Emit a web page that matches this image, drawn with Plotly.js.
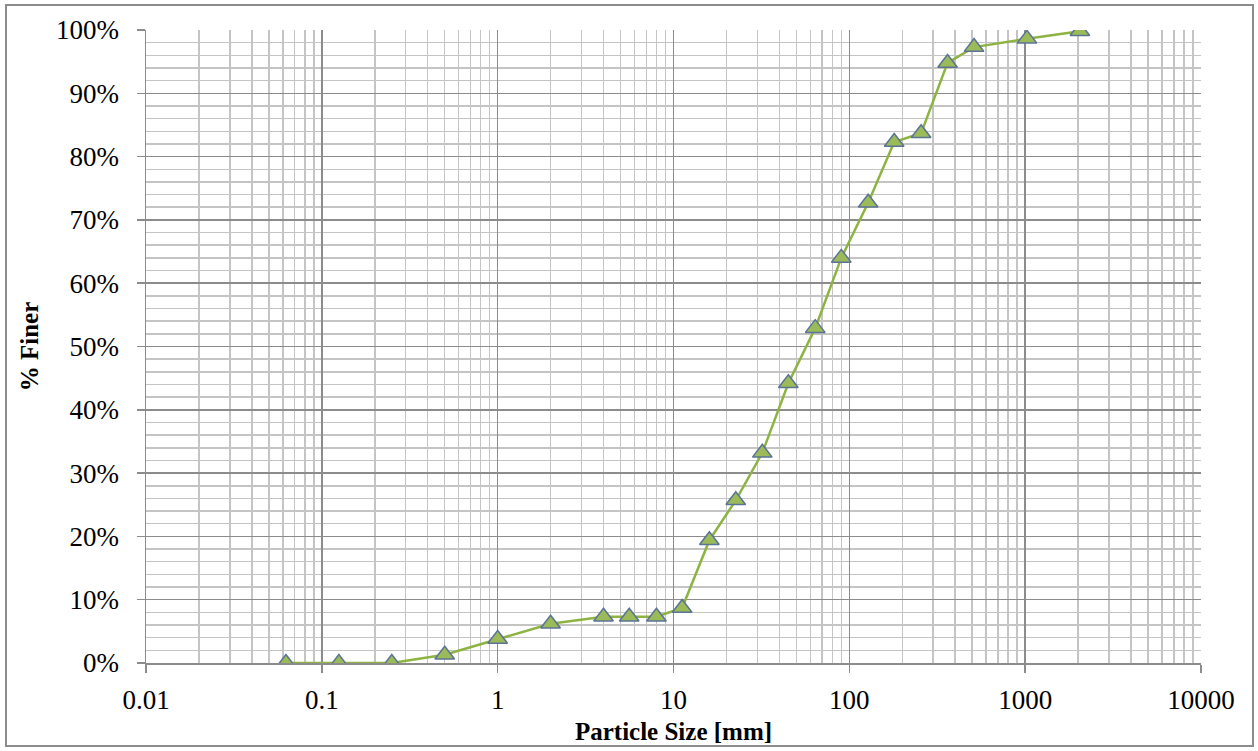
<!DOCTYPE html>
<html>
<head>
<meta charset="utf-8">
<script src="https://cdn.plot.ly/plotly-3.0.1.min.js"></script>
<style>
  html, body { margin: 0; padding: 0; background: #fff; }
  #chart { width: 1258px; height: 751px; position: relative; }
  #frame { position: absolute; left: 5px; top: 4px; width: 1249px; height: 743px; border: 2px solid #8c8c8c; pointer-events: none; box-sizing: border-box; }
</style>
</head>
<body>
<div id="chart"></div>
<div id="frame"></div>
<script>
// Particle size (mm) and cumulative percent finer (fraction)
const particleSize = [0.0625, 0.125, 0.25, 0.5, 1, 2, 4, 5.6, 8, 11.2, 16, 22.6, 32, 45, 64, 90, 128, 180, 256, 362, 512, 1024, 2048];
const percentFiner = [0.0, 0.0, 0.0, 0.013, 0.038, 0.062, 0.073, 0.073, 0.073, 0.087, 0.194, 0.257, 0.332, 0.442, 0.529, 0.640, 0.727, 0.823, 0.837, 0.948, 0.973, 0.986, 0.998];

const xTickVals = [0.01, 0.1, 1, 10, 100, 1000, 10000];
const xTickText = ["0.01", "0.1", "1", "10", "100", "1000", "10000"];

const font = "'Liberation Serif', 'DejaVu Serif', serif";

const trace = {
  x: particleSize,
  y: percentFiner,
  type: 'scatter',
  mode: 'lines+markers',
  line: { color: '#8DB443', width: 2.5 },
  marker: { symbol: 'triangle-up', size: 17, color: '#9BBB59', line: { color: '#5B7396', width: 1.5 } },
  showlegend: false,
  hoverinfo: 'x+y'
};

const layout = {
  width: 1258,
  height: 751,
  margin: { l: 146, r: 57, t: 30, b: 88 },
  paper_bgcolor: '#ffffff',
  plot_bgcolor: '#ffffff',
  font: { family: font, size: 27, color: '#000' },
  xaxis: {
    type: 'log',
    range: [-2, 4],
    tickvals: xTickVals,
    ticktext: xTickText,
    showgrid: true,
    gridcolor: '#8c8c8c',
    gridwidth: 1.5,
    showline: true,
    linecolor: '#8c8c8c',
    linewidth: 1.5,
    ticks: 'outside',
    ticklen: 8,
    tickcolor: '#8c8c8c',
    tickwidth: 1.5,
    ticklabelstandoff: 4,
    tickfont: { family: font, size: 27, color: '#000' },
    zeroline: false,
    automargin: false,
    minor: { dtick: 'D1', showgrid: true, gridcolor: '#c4c4c4', gridwidth: 1.5, ticks: '' },
    title: { text: '<b>Particle Size [mm]</b>', font: { family: font, size: 25, color: '#000' }, standoff: 8 }
  },
  yaxis: {
    range: [0, 1],
    dtick: 0.1,
    tick0: 0,
    tickformat: '.0%',
    showgrid: true,
    gridcolor: '#8c8c8c',
    gridwidth: 1.5,
    showline: true,
    linecolor: '#8c8c8c',
    linewidth: 1.5,
    ticks: 'outside',
    ticklen: 8,
    tickcolor: '#8c8c8c',
    tickwidth: 1.5,
    ticklabelstandoff: 12,
    tickfont: { family: font, size: 27, color: '#000' },
    zeroline: false,
    automargin: false,
    minor: { dtick: 0.02, showgrid: true, gridcolor: '#c4c4c4', gridwidth: 1.5, ticks: '' },
    title: { text: '<b>% Finer</b>', font: { family: font, size: 25, color: '#000' }, standoff: 10 }
  }
};

Plotly.newPlot('chart', [trace], layout, { displayModeBar: false, staticPlot: true });
</script>
</body>
</html>
